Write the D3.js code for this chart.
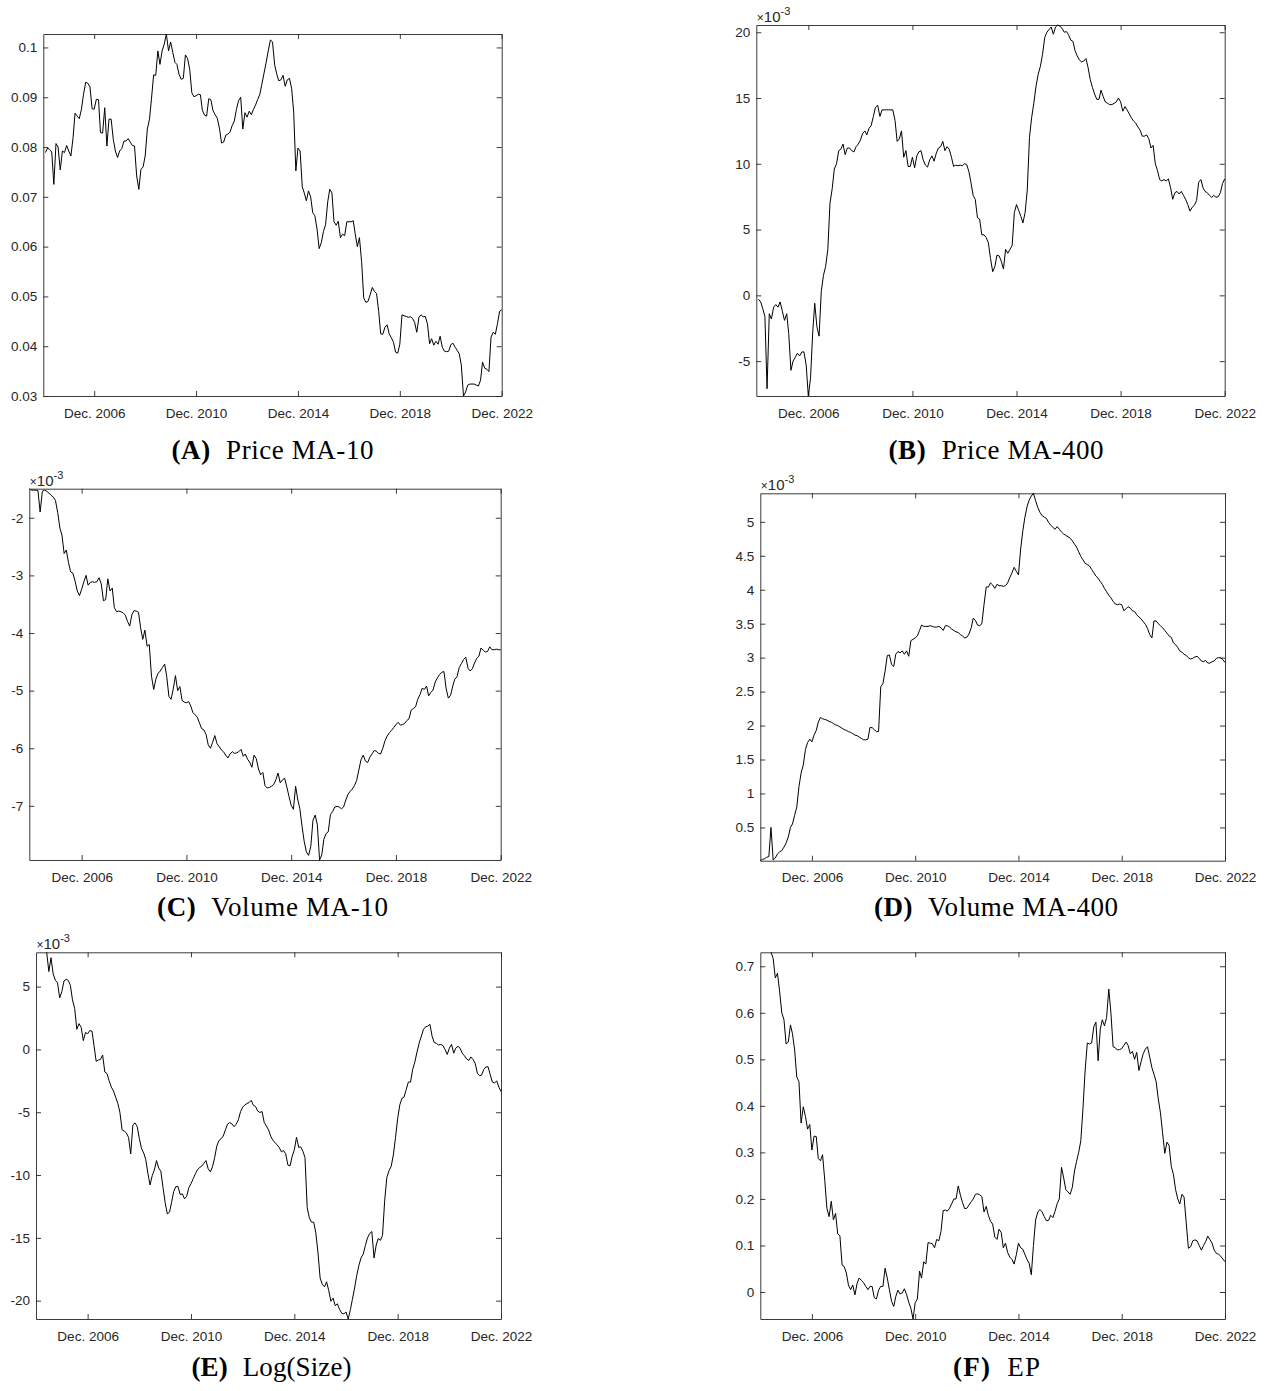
<!DOCTYPE html>
<html>
<head>
<meta charset="utf-8">
<script src="https://cdn.jsdelivr.net/npm/d3@7"></script>
<style>
  html, body { margin: 0; padding: 0; background: #fff; }
  svg { display: block; }
  .tick text { font-family: 'Liberation Sans', Arial, Helvetica, sans-serif; font-size: 13.5px; fill: #262626; }
  .tick line, .domain { stroke: #262626; stroke-width: 0.9px; }
  .title { font-family: 'Liberation Serif', 'Times New Roman', serif; font-size: 27px; fill: #000; white-space: pre; }
  .mult { font-family: 'Liberation Sans', Arial, sans-serif; font-size: 15px; fill: #262626; }
</style>
</head>
<body>
<div id="chart"></div>
<script>
// monthly observations, Dec. 2004 .. Dec. 2022 (one row per year, Dec -> Nov)
const months = d3.timeMonth.range(new Date(2004, 11, 1), new Date(2023, 0, 1));
const tickYears = [2006, 2010, 2014, 2018, 2022];

const panelLetters = ['A', 'B', 'C', 'D', 'E', 'F'];
const panelNames = ['Price MA-10', 'Price MA-400', 'Volume MA-10', 'Volume MA-400', 'Log(Size)', 'EP'];
const panelExponents = [null, -3, -3, -3, -3, null];

const priceMA10Ticks = [0.03, 0.04, 0.05, 0.06, 0.07, 0.08, 0.09, 0.1];
const priceMA400Ticks = [-5, 0, 5, 10, 15, 20];
const volumeMA10Ticks = [-7, -6, -5, -4, -3, -2];
const volumeMA400Ticks = [0.5, 1, 1.5, 2, 2.5, 3, 3.5, 4, 4.5, 5];
const logSizeTicks = [-20, -15, -10, -5, 0, 5];
const epTicks = [0, 0.1, 0.2, 0.3, 0.4, 0.5, 0.6, 0.7];

const priceMA10 = [
  null, 0.0789, 0.0798, 0.0795, 0.0790, 0.0725, 0.0807, 0.0800, 0.0754, 0.0792, 0.0789, 0.0803,
  0.0792, 0.0782, 0.0819, 0.0868, 0.0862, 0.0857, 0.0876, 0.0906, 0.0930, 0.0928, 0.0921, 0.0877,
  0.0876, 0.0896, 0.0895, 0.0829, 0.0828, 0.0879, 0.0802, 0.0856, 0.0856, 0.0815, 0.0792, 0.0779,
  0.0792, 0.0797, 0.0812, 0.0812, 0.0817, 0.0810, 0.0803, 0.0802, 0.0742, 0.0715, 0.0755, 0.0760,
  0.0782, 0.0836, 0.0856, 0.0896, 0.0945, 0.0944, 0.0993, 0.0966, 0.0993, 0.1007, 0.1027, 0.0993,
  0.1011, 0.0990, 0.0970, 0.0966, 0.0946, 0.0936, 0.0938, 0.0985, 0.0978, 0.0956, 0.0909, 0.0901,
  0.0903, 0.0906, 0.0905, 0.0874, 0.0864, 0.0862, 0.0897, 0.0895, 0.0873, 0.0865, 0.0858, 0.0838,
  0.0808, 0.0810, 0.0824, 0.0826, 0.0830, 0.0843, 0.0852, 0.0875, 0.0893, 0.0900, 0.0836, 0.0869,
  0.0860, 0.0872, 0.0865, 0.0875, 0.0884, 0.0895, 0.0905, 0.0926, 0.0948, 0.0970, 0.0993, 0.1015,
  0.1011, 0.0965, 0.0946, 0.0933, 0.0935, 0.0944, 0.0922, 0.0935, 0.0938, 0.0918, 0.0870, 0.0752,
  0.0798, 0.0792, 0.0720, 0.0708, 0.0692, 0.0712, 0.0700, 0.0668, 0.0662, 0.0635, 0.0596, 0.0608,
  0.0630, 0.0644, 0.0690, 0.0715, 0.0708, 0.0650, 0.0643, 0.0651, 0.0618, 0.0625, 0.0622, 0.0650,
  0.0650, 0.0650, 0.0652, 0.0626, 0.0600, 0.0618, 0.0570, 0.0497, 0.0488, 0.0490, 0.0503, 0.0518,
  0.0510, 0.0506, 0.0470, 0.0425, 0.0424, 0.0438, 0.0443, 0.0425, 0.0417, 0.0408, 0.0388, 0.0386,
  0.0404, 0.0463, 0.0461, 0.0460, 0.0458, 0.0459, 0.0456, 0.0448, 0.0428, 0.0458, 0.0463, 0.0459,
  0.0460, 0.0445, 0.0405, 0.0415, 0.0402, 0.0410, 0.0404, 0.0420, 0.0398, 0.0390, 0.0389, 0.0390,
  0.0403, 0.0406, 0.0398, 0.0392, 0.0385, 0.0362, 0.0300, 0.0308, 0.0322, 0.0324, 0.0324, 0.0324,
  0.0322, 0.0320, 0.0332, 0.0368, 0.0356, 0.0354, 0.0349, 0.0418, 0.0428, 0.0424, 0.0445, 0.0470,
  0.0473
];

// x 10^-3
const priceMA400 = [
  null, -0.3, -0.5, -1.0, -1.6, -7.1, -1.4, -1.8, -0.9, -0.7, -0.9, -0.5,
  -1.2, -1.9, -1.4, -2.9, -5.7, -5.0, -4.7, -4.4, -4.6, -4.3, -4.3, -5.3,
  -7.65, -6.3, -2.8, -0.6, -2.4, -3.1, 0.3, 1.5, 2.2, 3.5, 7.0, 8.1,
  9.6, 10.0, 11.0, 11.1, 11.5, 10.7, 11.2, 11.2, 11.0, 10.9, 11.3, 11.5,
  11.8, 12.3, 12.5, 12.2, 12.7, 12.9, 13.6, 14.3, 14.45, 13.6, 14.1, 14.1,
  14.1, 14.1, 14.1, 14.1, 13.3, 11.7, 11.9, 12.5, 10.5, 11.0, 9.8, 9.8,
  10.5, 9.7, 10.6, 10.9, 11.0, 10.3, 9.9, 9.75, 10.3, 10.6, 10.2, 10.8,
  11.2, 11.3, 11.7, 11.0, 11.3, 11.1, 10.5, 9.8, 9.9, 9.85, 9.9, 9.85,
  10.0, 9.95, 9.4, 8.6, 7.6, 7.3, 5.9, 5.8, 4.6, 4.6, 4.4, 4.0,
  2.8, 1.8, 2.2, 3.05, 3.0, 2.6, 2.0, 3.5, 3.2, 3.5, 3.8, 6.3,
  6.9, 6.45, 6.0, 5.5, 6.3, 8.0, 12.0, 13.5, 14.6, 15.9, 16.8, 17.4,
  18.3, 19.6, 20.0, 20.2, 20.4, 19.85, 20.4, 20.55, 20.45, 20.3, 20.0, 20.05,
  19.8, 19.4, 19.3, 18.6, 18.2, 17.9, 17.75, 17.8, 18.0, 17.3, 16.4, 15.8,
  15.3, 14.9, 14.9, 15.6, 15.1, 14.7, 14.6, 14.5, 14.5, 14.6, 14.7, 15.0,
  14.7, 14.0, 14.35, 14.1, 13.8, 13.5, 13.25, 13.1, 12.8, 12.55, 12.1, 12.1,
  12.2, 11.9, 11.2, 11.4, 10.0, 9.5, 8.8, 8.7, 8.8, 8.7, 8.85, 8.2,
  7.3, 7.8, 7.9, 7.7, 7.9, 7.6, 7.3, 6.9, 6.4, 6.7, 6.85, 7.2,
  8.6, 8.8, 8.15, 7.9, 7.8, 7.6, 7.45, 7.6, 7.45, 7.5, 7.8, 8.5,
  8.85
];

// x 10^-3
const volumeMA10 = [
  -1.495, -1.52, -1.52, -1.52, -1.53, -1.90, -1.54, -1.52, -1.54, -1.57, -1.61, -1.64,
  -1.70, -1.91, -2.18, -2.30, -2.62, -2.56, -2.78, -2.94, -2.96, -3.10, -3.27, -3.35,
  -3.24, -3.11, -3.00, -3.17, -3.12, -3.11, -3.12, -3.11, -3.04, -3.15, -3.44, -3.42,
  -3.06, -3.27, -3.22, -3.56, -3.63, -3.62, -3.63, -3.65, -3.69, -3.80, -3.88, -3.68,
  -3.61, -3.62, -3.64, -3.90, -4.11, -3.95, -4.23, -4.20, -4.75, -4.98, -4.80, -4.70,
  -4.66, -4.60, -4.54, -4.75, -5.10, -5.15, -4.97, -4.74, -5.00, -4.93, -5.17, -5.20,
  -5.21, -5.19, -5.27, -5.38, -5.42, -5.46, -5.56, -5.66, -5.68, -5.76, -5.94, -6.00,
  -5.90, -5.78, -5.92, -5.97, -6.03, -6.06, -6.12, -6.17, -6.10, -6.06, -6.09, -6.08,
  -6.06, -6.02, -6.14, -6.10, -6.19, -6.24, -6.33, -6.12, -6.18, -6.36, -6.46, -6.42,
  -6.65, -6.69, -6.68, -6.66, -6.63, -6.55, -6.43, -6.60, -6.55, -6.52, -6.67, -6.84,
  -6.99, -7.06, -6.66, -6.88, -7.05, -7.35, -7.62, -7.80, -7.86, -7.70, -7.25, -7.16,
  -7.33, -7.94, -7.85, -7.58, -7.48, -7.45, -7.15, -7.10, -7.02, -7.01, -7.02, -7.05,
  -7.02, -6.90, -6.80, -6.75, -6.71, -6.65, -6.56, -6.38, -6.20, -6.12, -6.22, -6.25,
  -6.16, -6.10, -6.04, -6.05, -6.09, -6.10, -6.00, -5.87, -5.79, -5.73, -5.69, -5.64,
  -5.59, -5.55, -5.60, -5.59, -5.57, -5.52, -5.49, -5.34, -5.31, -5.28, -5.15, -5.07,
  -4.96, -4.98, -4.92, -5.09, -5.03, -4.99, -4.85, -4.78, -4.72, -4.68, -4.67, -4.97,
  -5.13, -5.08, -4.92, -4.80, -4.76, -4.60, -4.53, -4.46, -4.42, -4.61, -4.66, -4.62,
  -4.52, -4.44, -4.40, -4.26, -4.30, -4.33, -4.32, -4.24, -4.29, -4.29, -4.28, -4.29,
  -4.29
];

// x 10^-3
const volumeMA400 = [
  0.01, 0.03, 0.04, 0.06, 0.07, 0.50, 0.02, 0.05, 0.11, 0.14, 0.16, 0.21,
  0.27, 0.36, 0.50, 0.55, 0.68, 0.80, 1.10, 1.30, 1.42, 1.65, 1.75, 1.80,
  1.76, 1.86, 1.93, 2.05, 2.12, 2.10, 2.09, 2.08, 2.06, 2.05, 2.03, 2.01,
  2.00, 1.98, 1.96, 1.94, 1.93, 1.91, 1.90, 1.88, 1.86, 1.85, 1.83, 1.81,
  1.79, 1.79, 1.80, 1.97, 1.97, 1.94, 1.91, 1.91, 2.57, 2.62, 2.80, 3.03,
  3.04, 2.90, 2.87, 3.05, 3.09, 3.07, 3.10, 3.05, 3.10, 3.02, 3.25, 3.27,
  3.29, 3.32, 3.40, 3.48, 3.46, 3.46, 3.46, 3.47, 3.46, 3.45, 3.45, 3.46,
  3.44, 3.40, 3.47, 3.47, 3.45, 3.42, 3.40, 3.38, 3.37, 3.34, 3.32, 3.29,
  3.30, 3.35, 3.44, 3.58, 3.55, 3.48, 3.47, 3.50, 3.78, 4.04, 4.04, 4.10,
  4.07, 4.02, 4.08, 4.06, 4.06, 4.05, 4.06, 4.10, 4.18, 4.25, 4.33, 4.27,
  4.22, 4.60, 4.87, 5.06, 5.22, 5.32, 5.38, 5.42, 5.31, 5.21, 5.14, 5.09,
  5.07, 5.05, 4.99, 4.95, 4.92, 4.89, 4.93, 4.89, 4.85, 4.82, 4.80, 4.78,
  4.76, 4.72, 4.67, 4.63, 4.56, 4.49, 4.44, 4.39, 4.37, 4.35, 4.30, 4.25,
  4.20, 4.17, 4.12, 4.08, 4.02, 3.97, 3.92, 3.88, 3.83, 3.79, 3.78, 3.79,
  3.78, 3.69, 3.72, 3.75, 3.73, 3.69, 3.68, 3.63, 3.60, 3.57, 3.53, 3.49,
  3.43, 3.34, 3.29, 3.54, 3.54, 3.50, 3.47, 3.44, 3.40, 3.36, 3.32, 3.30,
  3.22, 3.19, 3.15, 3.10, 3.08, 3.05, 3.03, 3.00, 2.98, 2.99, 3.01, 3.02,
  2.99, 2.95, 2.94, 2.96, 2.92, 2.92, 2.94, 2.95, 2.99, 3.00, 3.00, 2.97,
  2.93
];

// x 10^-3
const logSize = [
  null, null, null, null, null, 7.73, 6.2, 7.3, 6.0, 5.5, 5.3, 4.1,
  4.6, 5.45, 5.58, 5.5, 5.1, 3.94, 3.25, 1.6, 2.05, 1.75, 0.7, 1.35,
  1.25, 1.5, 1.45, 0.3, -0.95, -0.85, -0.79, -0.45, -1.8, -1.93, -2.5, -3.0,
  -3.3, -3.8, -4.3, -5.0, -6.4, -6.5, -6.65, -7.0, -8.32, -6.0, -5.85, -6.15,
  -7.1, -7.9, -8.25, -8.75, -9.86, -10.79, -10.05, -9.6, -8.85, -9.45, -9.7, -11.0,
  -12.2, -13.1, -12.95, -12.2, -11.3, -10.92, -10.92, -11.55, -11.5, -11.9, -11.7, -11.0,
  -10.7, -10.3, -9.9, -9.6, -9.4, -9.3, -9.07, -8.85, -9.5, -9.75, -9.35, -8.6,
  -7.7, -7.25, -7.1, -6.9, -6.4, -5.95, -5.83, -5.93, -6.15, -5.95, -5.6, -4.95,
  -4.6, -4.42, -4.3, -4.24, -4.05, -4.45, -4.55, -4.9, -5.02, -4.95, -5.8, -6.1,
  -6.4, -6.9, -7.25, -7.4, -7.6, -7.8, -8.15, -8.05, -8.3, -9.2, -9.28, -8.5,
  -8.0, -7.0, -7.8, -7.75, -8.1, -8.6, -12.6, -13.4, -13.75, -13.75, -14.6, -16.2,
  -18.2, -18.7, -18.9, -18.5, -19.2, -20.05, -19.8, -20.4, -20.25, -20.7, -21.0, -21.05,
  -20.9, -21.46, -20.7, -19.9, -19.0, -18.0, -17.2, -16.6, -16.3, -15.6, -15.0, -14.65,
  -14.5, -16.6, -15.57, -15.05, -15.2, -14.8, -12.0, -10.2, -9.65, -9.3, -8.4, -7.0,
  -5.5, -4.4, -3.89, -3.8, -3.2, -2.6, -2.6, -1.6, -1.0, -0.2, 0.5, 1.05,
  1.6, 1.8, 1.85, 2.0, 1.05, 0.55, 0.48, 0.35, 0.4, 0.3, 0.0, -0.4,
  0.1, 0.4, -0.3, 0.1, 0.25, 0.1, -0.3, -0.5, -0.75, -0.88, -0.6, -0.8,
  -1.1, -1.9, -2.1, -2.05, -1.6, -1.4, -1.38, -2.0, -2.6, -2.68, -2.5, -3.0,
  -3.36
];

const ep = [
  null, null, null, null, null, 0.73, 0.717, 0.675, 0.685, 0.645, 0.60, 0.585,
  0.533, 0.537, 0.574, 0.555, 0.52, 0.462, 0.452, 0.363, 0.398, 0.377, 0.35, 0.36,
  0.305, 0.335, 0.334, 0.287, 0.282, 0.295, 0.24, 0.18, 0.162, 0.195, 0.155, 0.169,
  0.125, 0.121, 0.058, 0.055, 0.041, 0.015, 0.005, 0.015, -0.006, 0.019, 0.03, 0.025,
  0.02, 0.012, 0.005, 0.012, 0.012, -0.012, -0.015, 0.004, 0.012, 0.012, 0.051, 0.03,
  0.005, -0.02, -0.031, -0.01, 0.004, -0.004, -0.002, 0.007, -0.005, -0.022, -0.035, -0.058,
  -0.023, -0.015, 0.045, 0.03, 0.065, 0.06, 0.106, 0.105, 0.104, 0.095, 0.113, 0.11,
  0.13, 0.175, 0.176, 0.174, 0.18, 0.19, 0.2, 0.2, 0.228, 0.208, 0.192, 0.179,
  0.18, 0.187, 0.194, 0.2, 0.21, 0.211, 0.209, 0.205, 0.172, 0.184, 0.165, 0.152,
  0.146, 0.118, 0.113, 0.135, 0.128, 0.095, 0.105, 0.085, 0.075, 0.07, 0.06, 0.08,
  0.105, 0.095, 0.092, 0.081, 0.07, 0.062, 0.037, 0.1, 0.155, 0.172, 0.177, 0.172,
  0.162, 0.153, 0.154, 0.165, 0.16, 0.173, 0.19, 0.2, 0.268, 0.245, 0.22, 0.215,
  0.21, 0.225, 0.26, 0.28, 0.3, 0.325, 0.395, 0.475, 0.535, 0.533, 0.535, 0.57,
  0.58, 0.497, 0.565, 0.585, 0.572, 0.59, 0.651, 0.6, 0.527, 0.525, 0.52, 0.521,
  0.523, 0.53, 0.537, 0.53, 0.512, 0.517, 0.5, 0.515, 0.476, 0.495, 0.512, 0.522,
  0.527, 0.505, 0.482, 0.468, 0.452, 0.415, 0.385, 0.342, 0.298, 0.322, 0.315, 0.27,
  0.253, 0.22, 0.2, 0.189, 0.21, 0.204, 0.148, 0.094, 0.097, 0.11, 0.112, 0.11,
  0.1, 0.09, 0.1, 0.108, 0.12, 0.113, 0.105, 0.09, 0.083, 0.081, 0.077, 0.071,
  0.065
];

const seriesList = [priceMA10, priceMA400, volumeMA10, volumeMA400, logSize, ep];
const tickList = [priceMA10Ticks, priceMA400Ticks, volumeMA10Ticks, volumeMA400Ticks, logSizeTicks, epTicks];

// plot boxes of the six sub-figures
const layout = [
  { left: 43.3, right: 501.7, top: 34, bottom: 396, titleX: 272.5, titleY: 459, titleW: 202 },
  { left: 756.3, right: 1224.7, top: 25, bottom: 396, titleX: 996, titleY: 459, titleW: 215 },
  { left: 29.3, right: 500.7, top: 488.7, bottom: 860, titleX: 272.5, titleY: 916, titleW: 231 },
  { left: 760.3, right: 1225, top: 493.3, bottom: 860.7, titleX: 996, titleY: 916, titleW: 244 },
  { left: 36, right: 501, top: 952.3, bottom: 1319, titleX: 271.5, titleY: 1376, titleW: 160 },
  { left: 760.3, right: 1225, top: 952.3, bottom: 1319, titleX: 996.5, titleY: 1376, titleW: 87 }
];

const width = 1268;
const height = 1391;

const svg = d3.select('#chart')
  .append('svg')
  .attr('width', width)
  .attr('height', height);

svg.append('rect')
  .attr('width', width)
  .attr('height', height)
  .attr('fill', '#fff');

const xTickDates = tickYears.map(yr => new Date(yr, 11, 1));
const fmt = d => String(d);

seriesList.forEach((values, i) => {
  const box = layout[i];
  const g = svg.append('g');

  const x = d3.scaleTime()
    .domain([months[0], months[months.length - 1]])
    .range([box.left, box.right]);

  const y = d3.scaleLinear()
    .domain(d3.extent(values))
    .range([box.bottom, box.top]);

  // box with inward ticks on all four sides
  g.append('g')
    .attr('transform', 'translate(0,' + box.bottom + ')')
    .call(d3.axisBottom(x).tickValues(xTickDates).tickFormat(d3.timeFormat('Dec. %Y'))
      .tickSizeInner(-5).tickSizeOuter(0).tickPadding(12));

  g.append('g')
    .attr('transform', 'translate(0,' + box.top + ')')
    .call(d3.axisTop(x).tickValues(xTickDates).tickFormat('')
      .tickSizeInner(-5).tickSizeOuter(0));

  g.append('g')
    .attr('transform', 'translate(' + box.left + ',0)')
    .call(d3.axisLeft(y).tickValues(tickList[i]).tickFormat(fmt)
      .tickSizeInner(-5).tickSizeOuter(0).tickPadding(6));

  g.append('g')
    .attr('transform', 'translate(' + box.right + ',0)')
    .call(d3.axisRight(y).tickValues(tickList[i]).tickFormat('')
      .tickSizeInner(-5).tickSizeOuter(0));

  const line = d3.line()
    .defined(d => d !== null)
    .x((d, j) => x(months[j]))
    .y(d => y(d));

  g.append('path')
    .datum(values)
    .attr('fill', 'none')
    .attr('stroke', '#000')
    .attr('stroke-width', 1)
    .attr('stroke-linejoin', 'round')
    .attr('d', line);

  if (panelExponents[i] !== null) {
    const m = g.append('text')
      .attr('class', 'mult')
      .attr('x', box.left + 0.5)
      .attr('y', box.top - 3);
    m.append('tspan').attr('font-size', '12px').text('\u00d7');
    m.append('tspan').text('10');
    m.append('tspan')
      .attr('dy', -7)
      .attr('font-size', '11px')
      .text(String(panelExponents[i]));
  }

  const t = g.append('text')
    .attr('class', 'title')
    .attr('x', box.titleX)
    .attr('y', box.titleY)
    .attr('text-anchor', 'middle')
    .attr('textLength', box.titleW)
    .attr('lengthAdjust', 'spacing');
  t.append('tspan')
    .attr('font-weight', 'bold')
    .text('(' + panelLetters[i] + ')');
  t.append('tspan')
    .attr('dx', 8)
    .text(' ' + panelNames[i]);
});
</script>
</body>
</html>
